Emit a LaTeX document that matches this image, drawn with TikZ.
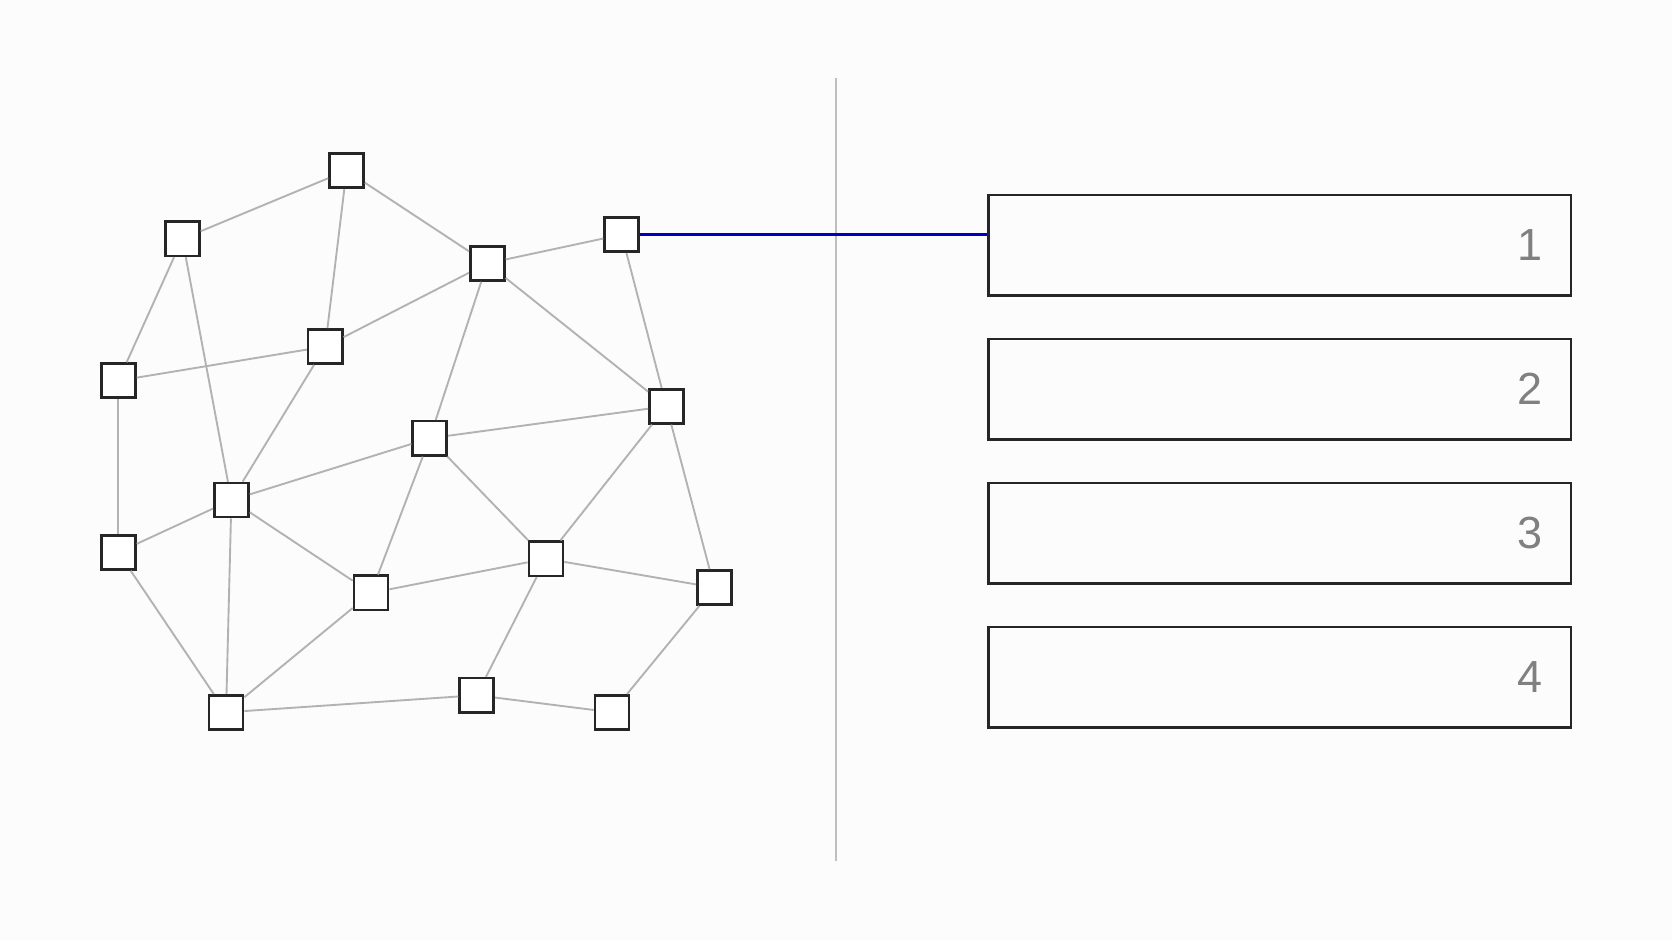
\documentclass[tikz,border=0pt]{standalone}
\usepackage{fontspec}
\setmainfont{Liberation Sans}
\begin{document}
\begin{tikzpicture}[x=0.01cm, y=-0.01cm,
    sq/.style={draw=black!85, fill=white, minimum size=0.32cm, inner sep=0pt, line width=0.7pt},
    link/.style={draw=black!30, line width=0.5pt},
    slot/.style={draw=black!85, line width=0.7pt, minimum width=5.46cm, minimum height=0.94cm, inner sep=0pt}]
  \fill[black!1] (0,0) rectangle (1568,882);
  % Nodes of the mesh
  \foreach \n/\x/\y in {a/325/160, b/171/224, c/457/247, d/583/220, e/305/325, f/111/357,
      g/625/381, h/403/411, i/217/469, j/111/518, k/512/524, l/348/556, m/670/551,
      n/212/668, o/447/652, p/574/668}
  {\node[sq] (\n) at (\x,\y) {};}

  % Links
  \foreach \s/\t in {a/b, a/e, a/c, c/d, c/e, c/h, c/g, d/g, b/f, b/i, e/f, e/i, f/j,
      h/g, h/i, h/l, h/k, g/k, g/m, i/j, i/l, i/n, j/n, l/k, l/n, k/m, k/o, n/o, o/p, p/m}
  {\path[link] (\s) -- (\t);}

  % Divider
  \coordinate (top) at (784,73);
  \coordinate (bot) at (784,807);
  \draw[black!25, line width=0.5pt] (top) -- (bot);

  % Boxes
  \foreach \k/\y in {1/230, 2/365, 3/500, 4/635}
  {\node[slot] (box\k) at (1200,\y) {};
   \node[text=black!50, font=\fontsize{12}{12}\selectfont] (num\k) at (1435,\y) {\k};}

  \draw[blue!75!black, line width=0.7pt] (d.east) -- (d.east -| box1.west);
\end{tikzpicture}
\end{document}
